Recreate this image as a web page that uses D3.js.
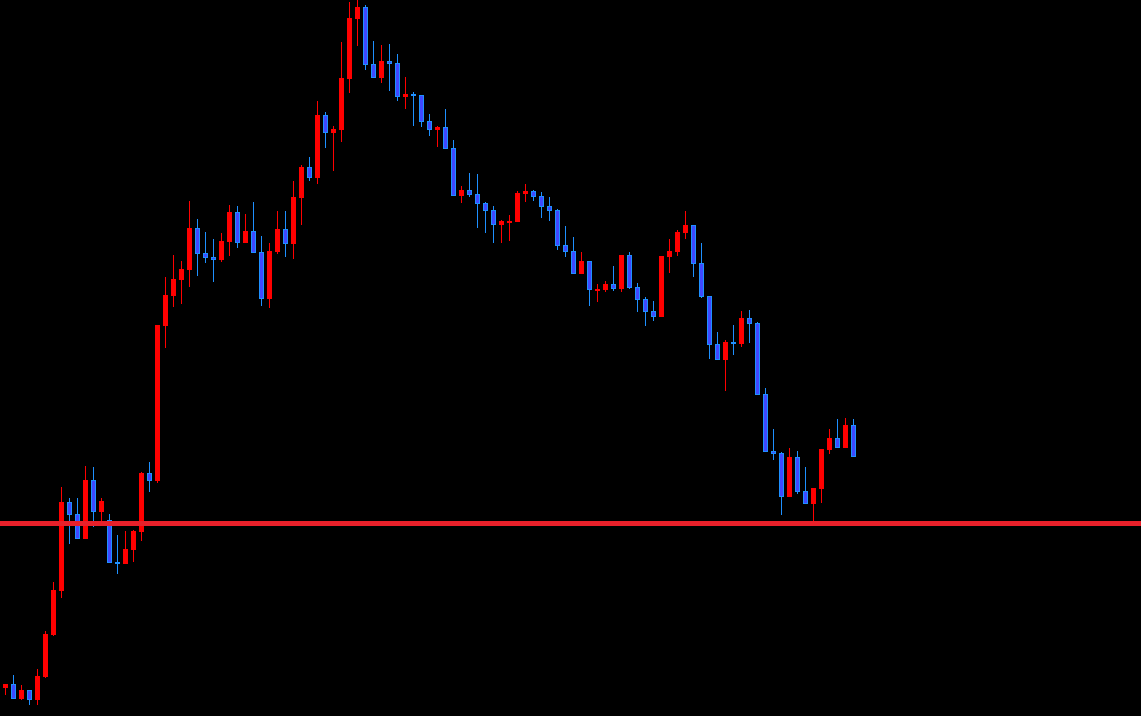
<!DOCTYPE html>
<html>
<head>
<meta charset="utf-8">
<script src="https://cdn.jsdelivr.net/npm/d3@7"></script>
<style>
  html, body { margin: 0; padding: 0; background: #000; overflow: hidden; }
  svg { display: block; }
</style>
</head>
<body>
<svg id="chart" width="1141" height="716"></svg>
<script>
// OHLC values (price units)
const openP = [28,32,17,26,16,39,81,125,214,202,177,236,204,196,154,152,166,184,243,235,
  390,420,436,446,488,463,459,456,474,504,473,485,464,417,464,487,472,518,549,538,
  601,583,586,637,697,709,652,638,655,653,619,622,621,595,586,589,568,520,526,522,
  513,506,491,494,494,522,525,520,510,506,471,465,442,455,426,426,432,427,461,429,
  417,405,399,459,464,483,491,453,420,372,356,374,372,398,393,322,265,263,219,259,
  225,212,227,266,278,268,291];
const highP = [32,41,31,26,47,85,134,229,218,218,250,249,218,202,181,185,186,244,254,391,
  439,461,455,515,497,484,477,483,511,510,502,514,480,473,505,505,535,551,559,615,
  604,590,674,714,716,711,675,671,672,662,639,624,621,602,590,607,576,530,543,542,
  514,510,496,501,525,532,526,524,519,507,490,479,464,455,432,435,450,461,464,433,
  419,415,460,477,486,505,491,473,420,384,376,391,405,406,394,328,287,264,268,265,
  249,228,267,287,297,298,297];
const lowP = [21,17,16,11,11,38,80,118,172,177,177,189,193,153,142,152,154,175,224,233,
  368,409,412,429,440,453,434,454,460,468,473,463,410,408,462,459,457,491,535,532,
  568,545,574,623,670,646,638,633,625,615,607,590,589,580,569,567,520,513,519,488,
  483,473,473,475,494,514,515,498,495,466,459,442,442,410,414,424,425,424,427,404,
  390,395,399,443,460,477,439,418,357,356,325,361,369,373,321,264,256,201,219,222,
  212,195,213,262,268,268,259];
const closeP = [32,17,26,16,40,82,126,214,201,177,236,204,215,153,152,167,185,243,235,391,
  421,437,447,488,462,458,456,475,504,473,485,463,417,465,487,472,519,549,538,601,
  583,587,638,698,709,651,638,655,652,619,622,620,594,586,589,567,520,526,521,512,
  505,491,495,495,523,525,519,509,505,470,464,442,455,426,427,432,427,461,428,416,
  404,399,460,465,484,491,452,419,371,356,374,372,398,392,321,264,262,219,259,224,
  212,228,267,278,268,291,259];
const levelP = [192.5];

const W = 1141, H = 716;
const n = openP.length;
const candles = d3.range(n).map(i => ({i, o: openP[i], h: highP[i], l: lowP[i], c: closeP[i]}));

const x = d3.scaleLinear().domain([0, 106]).range([5, 853]);
const y = d3.scaleLinear().domain([0, 716]).range([716, 0]);

const svg = d3.select("#chart");
svg.append("rect").attr("width", W).attr("height", H).attr("fill", "#000");

const RED = "#ff0000", BLUE_FILL = "#3f48ff", BLUE_EDGE = "#1e90ff";

const g = svg.append("g").attr("shape-rendering", "crispEdges");

const cg = g.selectAll("g.candle").data(candles).join("g").attr("class", "candle");

// wicks
cg.append("rect")
  .attr("x", d => Math.round(x(d.i)))
  .attr("width", 1)
  .attr("y", d => y(d.h))
  .attr("height", d => Math.max(1, y(d.l) - y(d.h)))
  .attr("fill", d => d.c >= d.o ? RED : BLUE_EDGE);

// bodies (outer)
cg.append("rect")
  .attr("x", d => Math.round(x(d.i)) - 2)
  .attr("width", 5)
  .attr("y", d => y(Math.max(d.o, d.c)))
  .attr("height", d => Math.max(2, Math.abs(y(d.o) - y(d.c))))
  .attr("fill", d => d.c >= d.o ? RED : BLUE_EDGE);

// bodies (inner fill for bearish)
cg.filter(d => d.c < d.o && Math.abs(y(d.o) - y(d.c)) > 2)
  .append("rect")
  .attr("x", d => Math.round(x(d.i)) - 1)
  .attr("width", 3)
  .attr("y", d => y(Math.max(d.o, d.c)) + 1)
  .attr("height", d => Math.abs(y(d.o) - y(d.c)) - 2)
  .attr("fill", BLUE_FILL);

// horizontal level line
svg.selectAll("line.level").data(levelP).join("line")
  .attr("class", "level")
  .attr("x1", 0).attr("x2", W)
  .attr("y1", d => y(d)).attr("y2", d => y(d))
  .attr("stroke", "#e8202a")
  .attr("stroke-width", 5);
</script>
</body>
</html>
